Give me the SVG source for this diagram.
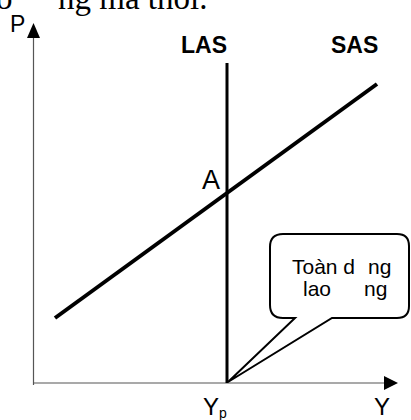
<svg xmlns="http://www.w3.org/2000/svg" width="411" height="420" viewBox="0 0 411 420">
<style>
.lbl{font-family:"Liberation Sans",Arial,sans-serif;fill:#000}
.b{font-weight:bold}
.axis{stroke:#555;stroke-width:1.2;fill:none}
.curve{stroke:#000;fill:none;stroke-linecap:butt}
.top{font-family:"Liberation Serif","Times New Roman",serif;font-size:33px;fill:#000}
</style>
<rect width="411" height="420" fill="#fff"/>
<text class="top" x="-4" y="9">o</text>
<text class="top" x="58" y="9">ng mà thôi.</text>
<g id="connectors">
<line class="axis" x1="33.5" y1="385" x2="33.5" y2="36"/>
<polygon points="27,38 40,38 33.5,23" fill="#000"/>
<line class="axis" x1="33" y1="383" x2="385" y2="383"/>
<polygon points="384,376 384,390 398,383" fill="#000"/>
</g>
<g id="LAS">
<line class="curve" x1="227" y1="63" x2="227" y2="383" stroke-width="3"/>
<text class="lbl b" x="181" y="53" font-size="23">LAS</text>
</g>
<g id="SAS">
<line class="curve" x1="55" y1="318" x2="377" y2="84" stroke-width="4"/>
<text class="lbl b" x="331" y="53" font-size="23">SAS</text>
</g>
<g id="A">
<text class="lbl" x="202" y="189" font-size="27">A</text>
</g>
<g id="P"><text class="lbl" x="10" y="32" font-size="23">P</text></g>
<g id="Yp"><text class="lbl" x="203" y="415" font-size="24">Y<tspan font-size="14" dy="3">p</tspan></text></g>
<g id="Y"><text class="lbl" x="374" y="415" font-size="24">Y</text></g>
<g id="callout">
<path d="M283 234 H397 Q409 234 409 246 V306 Q409 318 397 318 H332 L228 382 L295 318 H283 Q270 318 270 305 V247 Q270 234 283 234 Z" fill="#fff" stroke="#000" stroke-width="2"/>
<text class="lbl" font-size="21" y="274"><tspan x="292">Toàn d</tspan><tspan x="368">ng</tspan></text>
<text class="lbl" font-size="21" y="296"><tspan x="303">lao</tspan><tspan x="364">ng</tspan></text>
</g>
</svg>
